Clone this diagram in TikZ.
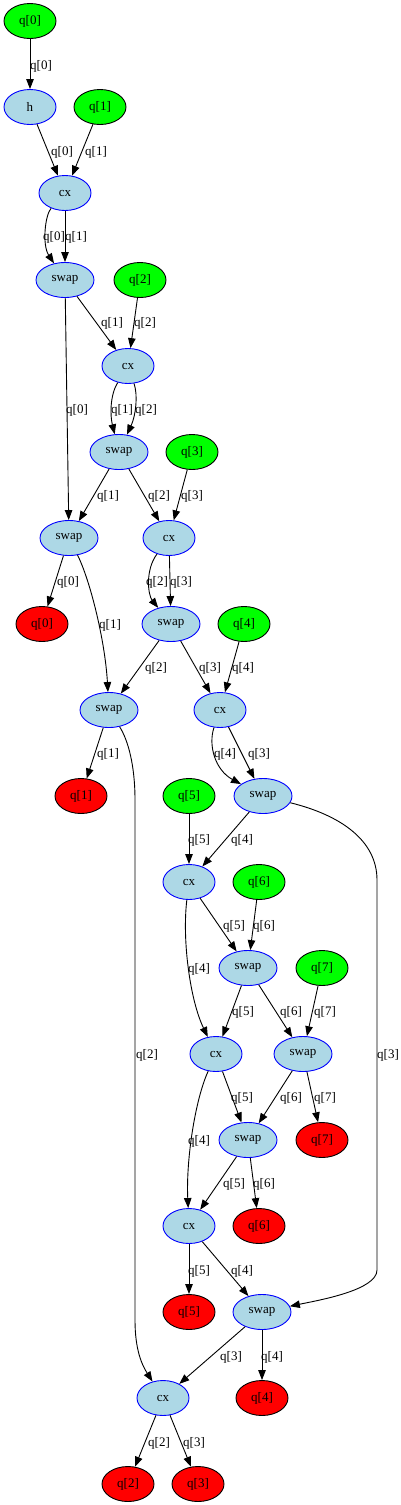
\documentclass[tikz,border=0pt]{standalone}
\usepackage{fontspec}
\setmainfont{Liberation Serif}
\usepackage{tikz}
\usepackage{xcolor}
\usetikzlibrary{arrows.meta}
\usetikzlibrary{shapes}
\definecolor{gatefill}{RGB}{173,216,230}
\definecolor{infill}{RGB}{0,255,0}
\definecolor{outfill}{RGB}{255,0,0}
\tikzset{every node/.style={font=\fontsize{13}{15}\selectfont},
 qnode/.style={ellipse,draw,line width=0.9pt,minimum width=52pt,minimum height=35pt,inner sep=1pt},
 gate/.style={qnode,draw=blue,fill=gatefill},
 swapgate/.style={gate,minimum width=58pt},
 inq/.style={qnode,draw=black,fill=infill},
 outq/.style={qnode,draw=black,fill=outfill},
 wire/.style={draw,line width=0.9pt,-{Triangle[length=10pt,width=7.5pt]}},
 lbl/.style={inner sep=0pt},
 }

\begin{document}
\begin{tikzpicture}[x=1pt,y=-1pt]
        \useasboundingbox (0,0) rectangle (401,1505);
        \node[inq] (i0) at (30,21) {q[0]};
        \node[gate] (h) at (30,107) {h};
        \node[inq] (i1) at (100,107) {q[1]};
        \node[gate] (cx1) at (65,193) {cx};
        \node[swapgate] (sw1) at (65,280) {swap};
        \node[inq] (i2) at (140,280) {q[2]};
        \node[gate] (cx2) at (128,366) {cx};
        \node[swapgate] (sw2) at (119,452) {swap};
        \node[inq] (i3) at (192,452) {q[3]};
        \node[swapgate] (sw3) at (69,538) {swap};
        \node[gate] (cx3) at (169,538) {cx};
        \node[outq] (o0) at (42,624) {q[0]};
        \node[swapgate] (sw4) at (171,624) {swap};
        \node[inq] (i4) at (244,624) {q[4]};
        \node[swapgate] (sw5) at (109,710) {swap};
        \node[gate] (cx4) at (220,710) {cx};
        \node[outq] (o1) at (81,796) {q[1]};
        \node[inq] (i5) at (189,796) {q[5]};
        \node[swapgate] (sw6) at (263,796) {swap};
        \node[gate] (cx5) at (189,882) {cx};
        \node[inq] (i6) at (259,882) {q[6]};
        \node[swapgate] (sw7) at (248,968) {swap};
        \node[inq] (i7) at (322,968) {q[7]};
        \node[gate] (cx6) at (216,1054) {cx};
        \node[swapgate] (sw8) at (303,1054) {swap};
        \node[swapgate] (sw9) at (248,1140) {swap};
        \node[outq] (o7) at (322,1140) {q[7]};
        \node[gate] (cx7) at (189,1226) {cx};
        \node[outq] (o6) at (259,1226) {q[6]};
        \node[outq] (o5) at (189,1312) {q[5]};
        \node[swapgate] (sw10) at (262,1312) {swap};
        \node[gate] (cx8) at (163,1398) {cx};
        \node[outq] (o4) at (262,1398) {q[4]};
        \node[outq] (o2) at (128,1484) {q[2]};
        \node[outq] (o3) at (198,1484) {q[3]};

        \draw[wire] (i0) -- (h);
        \draw[wire] (h) -- (cx1);
        \draw[wire] (i1) -- (cx1);
        \draw[wire] (cx1) .. controls (45,215) and (42,245) .. (sw1);
        \draw[wire] (cx1) -- (sw1);
        \draw[wire] (sw1) -- (cx2);
        \draw[wire] (i2) -- (cx2);
        \draw[wire] (sw1) -- (sw3);
        \draw[wire] (cx2) .. controls (110,395) and (110,415) .. (sw2);
        \draw[wire] (cx2) .. controls (138,395) and (136,415) .. (sw2);
        \draw[wire] (sw2) -- (sw3);
        \draw[wire] (sw2) -- (cx3);
        \draw[wire] (i3) -- (cx3);
        \draw[wire] (sw3) -- (o0);
        \draw[wire] (cx3) .. controls (145,570) and (148,595) .. (sw4);
        \draw[wire] (cx3) -- (sw4);
        \draw[wire] (sw3) .. controls (90,580) and (105,640) .. (sw5);
        \draw[wire] (sw4) -- (sw5);
        \draw[wire] (sw4) -- (cx4);
        \draw[wire] (i4) -- (cx4);
        \draw[wire] (sw5) -- (o1);
        \draw[wire] (cx4) .. controls (208,745) and (215,770) .. (sw6);
        \draw[wire] (cx4) -- (sw6);
        \draw[wire] (i5) -- (cx5);
        \draw[wire] (sw6) -- (cx5);
        \draw[wire] (cx5) -- (sw7);
        \draw[wire] (i6) -- (sw7);
        \draw[wire] (cx5) .. controls (182,940) and (190,1000) .. (cx6);
        \draw[wire] (sw7) -- (cx6);
        \draw[wire] (sw7) -- (sw8);
        \draw[wire] (i7) -- (sw8);
        \draw[wire] (sw6) .. controls (340,815) and (377,840) .. (377,880) -- (377,1270) .. controls (377,1290) and (320,1300) .. (sw10);
        \draw[wire] (sw5) .. controls (128,740) and (135,765) .. (135,800) -- (135,1320) .. controls (135,1350) and (142,1365) .. (cx8);
        \draw[wire] (cx6) -- (sw9);
        \draw[wire] (sw8) -- (sw9);
        \draw[wire] (sw8) -- (o7);
        \draw[wire] (cx6) .. controls (195,1100) and (186,1160) .. (cx7);
        \draw[wire] (sw9) -- (cx7);
        \draw[wire] (sw9) -- (o6);
        \draw[wire] (cx7) -- (o5);
        \draw[wire] (cx7) -- (sw10);
        \draw[wire] (sw10) -- (cx8);
        \draw[wire] (sw10) -- (o4);
        \draw[wire] (cx8) -- (o2);
        \draw[wire] (cx8) -- (o3);

        \node[lbl] (l1) at (41,66) {q[0]};
        \node[lbl] (l2) at (62,152) {q[0]};
        \node[lbl] (l3) at (96,152) {q[1]};
        \node[lbl] (l4) at (54,237) {q[0]};
        \node[lbl] (l5) at (76,237) {q[1]};
        \node[lbl] (l6) at (112,323) {q[1]};
        \node[lbl] (l7) at (145,323) {q[2]};
        \node[lbl] (l8) at (77,410) {q[0]};
        \node[lbl] (l9) at (122,410) {q[1]};
        \node[lbl] (l10) at (146,410) {q[2]};
        \node[lbl] (l11) at (108,496) {q[1]};
        \node[lbl] (l12) at (159,496) {q[2]};
        \node[lbl] (l13) at (192,496) {q[3]};
        \node[lbl] (l14) at (68,582) {q[0]};
        \node[lbl] (l15) at (157,582) {q[2]};
        \node[lbl] (l16) at (181,582) {q[3]};
        \node[lbl] (l17) at (110,625) {q[1]};
        \node[lbl] (l18) at (156,668) {q[2]};
        \node[lbl] (l19) at (210,668) {q[3]};
        \node[lbl] (l20) at (243,668) {q[4]};
        \node[lbl] (l21) at (108,754) {q[1]};
        \node[lbl] (l22) at (225,754) {q[4]};
        \node[lbl] (l23) at (259,754) {q[3]};
        \node[lbl] (l24) at (199,840) {q[5]};
        \node[lbl] (l25) at (242,840) {q[4]};
        \node[lbl] (l26) at (234,926) {q[5]};
        \node[lbl] (l27) at (264,926) {q[6]};
        \node[lbl] (l28) at (199,969) {q[4]};
        \node[lbl] (l29) at (243,1012) {q[5]};
        \node[lbl] (l30) at (291,1012) {q[6]};
        \node[lbl] (l31) at (325,1012) {q[7]};
        \node[lbl] (l32) at (388,1055) {q[3]};
        \node[lbl] (l33) at (147,1055) {q[2]};
        \node[lbl] (l34) at (242,1098) {q[5]};
        \node[lbl] (l35) at (291,1098) {q[6]};
        \node[lbl] (l36) at (325,1098) {q[7]};
        \node[lbl] (l37) at (199,1141) {q[4]};
        \node[lbl] (l38) at (234,1184) {q[5]};
        \node[lbl] (l39) at (264,1184) {q[6]};
        \node[lbl] (l40) at (199,1271) {q[5]};
        \node[lbl] (l41) at (242,1271) {q[4]};
        \node[lbl] (l42) at (231,1357) {q[3]};
        \node[lbl] (l43) at (272,1357) {q[4]};
        \node[lbl] (l44) at (159,1443) {q[2]};
        \node[lbl] (l45) at (194,1443) {q[3]};
    \end{tikzpicture}
\end{document}
